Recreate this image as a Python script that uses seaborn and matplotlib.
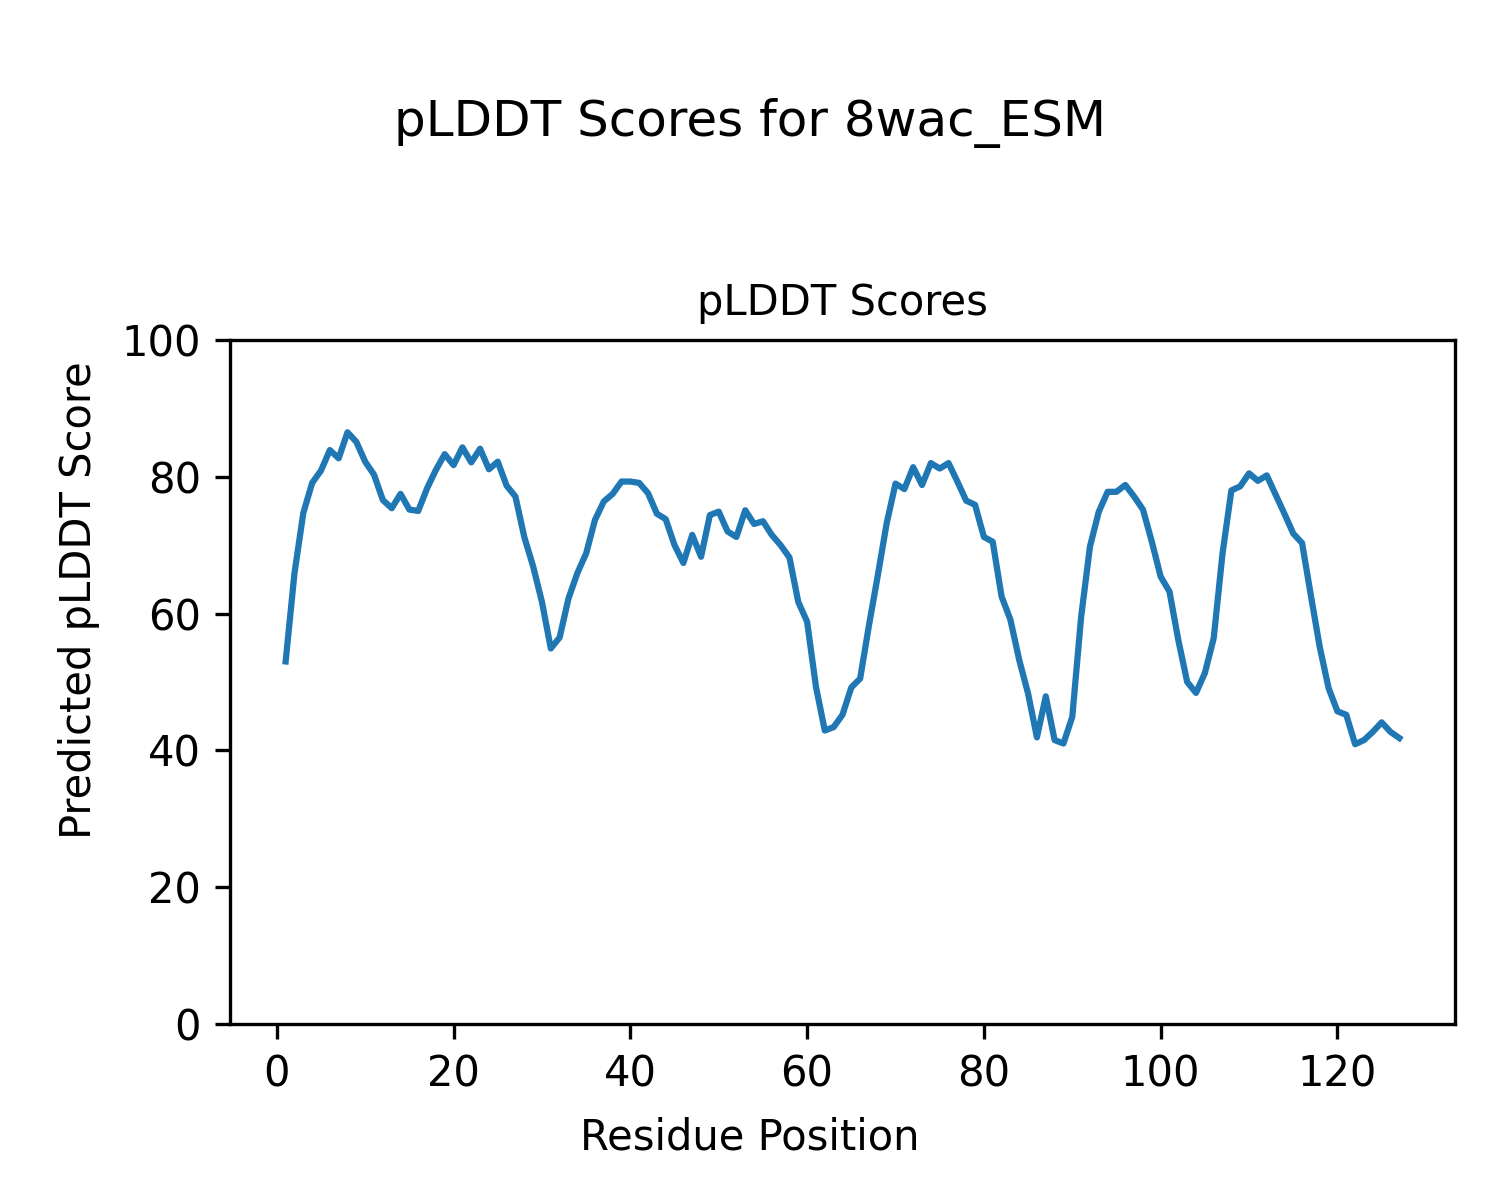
import matplotlib
matplotlib.use("Agg")
import matplotlib.pyplot as plt
import pandas as pd
import seaborn as sns

protein_name = "8wac_ESM"

residue_positions = list(range(1, 128))
plddt_scores = [
    53.0, 65.9, 74.7, 79.1, 80.9, 83.9, 82.7, 86.5, 85.1, 82.2,
    80.3, 76.6, 75.4, 77.5, 75.2, 75.0, 78.3, 81.0, 83.3, 81.7,
    84.3, 82.1, 84.1, 81.1, 82.2, 78.7, 77.1, 71.2, 66.9, 61.7,
    54.9, 56.5, 62.2, 65.9, 68.8, 73.7, 76.4, 77.5, 79.3, 79.3,
    79.1, 77.6, 74.6, 73.8, 70.0, 67.4, 71.5, 68.3, 74.4, 74.9,
    72.0, 71.2, 75.1, 73.1, 73.5, 71.5, 70.0, 68.2, 61.7, 58.8,
    49.3, 42.9, 43.4, 45.2, 49.2, 50.5, 58.3, 65.6, 73.2, 79.0,
    78.2, 81.4, 78.8, 82.0, 81.2, 82.0, 79.3, 76.5, 75.9, 71.2,
    70.5, 62.5, 59.1, 53.2, 48.3, 41.9, 47.9, 41.5, 41.0, 44.9,
    59.5, 69.8, 74.9, 77.8, 77.8, 78.8, 77.1, 75.2, 70.5, 65.4,
    63.2, 56.1, 50.0, 48.4, 51.3, 56.4, 68.8, 78.0, 78.6, 80.5,
    79.4, 80.2, 77.4, 74.6, 71.7, 70.3, 62.6, 55.1, 49.1, 45.7,
    45.2, 40.9, 41.5, 42.7, 44.1, 42.7, 41.8,
]

df = pd.DataFrame({"Residue Position": residue_positions, "pLDDT": plddt_scores})

fig = plt.figure(figsize=(5, 4), dpi=300)
ax = fig.add_axes([0.1533, 0.1467, 0.8167, 0.57])

sns.lineplot(data=df, x="Residue Position", y="pLDDT", ax=ax, color="#1f77b4", linewidth=1.5)

ax.set_ylim(0, 100)
ax.set_yticks([0, 20, 40, 60, 80, 100])
ax.set_xticks([0, 20, 40, 60, 80, 100, 120])
ax.set_title("pLDDT Scores", fontsize=10)
ax.set_xlabel("")
ax.set_ylabel("")

# shared figure-level labels, centred on the figure
fig.supxlabel("Residue Position", x=0.5, y=0.052, va="center", fontsize=10)
fig.supylabel("Predicted pLDDT Score", x=0.0525, y=0.5, ha="center", va="center", fontsize=10)
fig.suptitle(f"pLDDT Scores for {protein_name}", y=0.918, fontsize=12)

fig.savefig("out.png", dpi=300)
plt.close(fig)
